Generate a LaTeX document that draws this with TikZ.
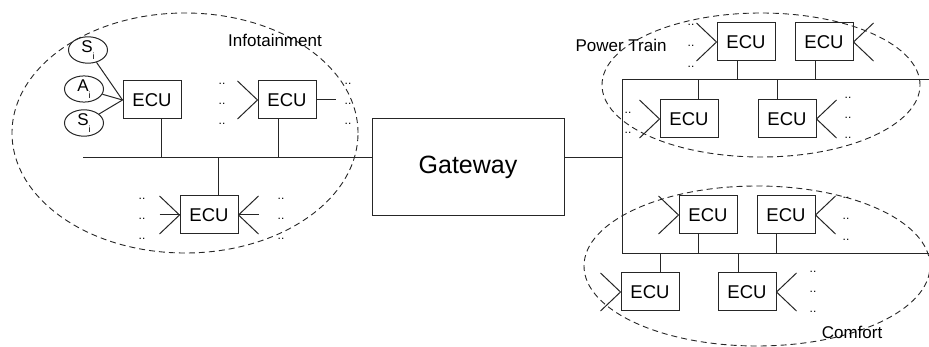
\documentclass[tikz,border=0pt]{standalone}
\usepackage{fontspec}
\setmainfont{Liberation Sans}
\usetikzlibrary{positioning,shapes.geometric}

\newcommand{\subi}{\raisebox{-0.4em}{\fontsize{9}{9}\selectfont i}}

\begin{document}
\begin{tikzpicture}[x=1pt,y=-1pt,line width=1pt,draw=black!85,
    ecu/.style={draw,rectangle,minimum width=58pt,minimum height=38pt,inner sep=0pt,font=\fontsize{18.5}{18.5}\selectfont},
    sens/.style={draw,ellipse,minimum width=39pt,minimum height=25pt,inner sep=0pt,font=\fontsize{17}{17}\selectfont},
    dom/.style={draw,line width=0.9pt,dash pattern=on 6pt off 4pt},
    lbl/.style={inner sep=0pt,font=\fontsize{17}{17}\selectfont},
    dots/.style={inner sep=0pt,font=\fontsize{12}{12}\selectfont}]

\useasboundingbox (0,0) rectangle (929,347);

% domains
\draw[dom] (185,133) ellipse [x radius=173pt,y radius=120pt];
\draw[dom] (761,85) ellipse [x radius=159pt,y radius=72pt];
\draw[dom] (757,266) ellipse [x radius=173pt,y radius=80pt];

\node[lbl] (linfo) at (275,40) {Infotainment};
\node[lbl] (lpt) at (621,45) {Power Train};
\node[lbl] (lcf) at (852,332) {Comfort};

% infotainment
\node[ecu] (e1) at (152,100) {ECU};
\node[ecu] (e2) [right=76pt of e1] {ECU};
\node[ecu] (e3) at (209,215) {ECU};

\node[sens] (s1) at (88,50) {S\subi};
\node[sens] (a1) at (84,89) {A\subi};
\node[sens] (s2) at (84,123) {S\subi};

\foreach \from in {s1, a1, s2}
    {
    \draw (\from) -- (e1.west);
    }

% gateway
\node[draw,minimum width=192pt,minimum height=97pt,inner sep=0pt,font=\fontsize{25}{25}\selectfont] (gw) at (468,167.5) {Gateway};

% power train
\node[ecu] (pt1) at (746,42) {ECU};
\node[ecu] (pt2) [right=19pt of pt1] {ECU};
\node[ecu] (pt3) at (689,119) {ECU};
\node[ecu] (pt4) [right=39pt of pt3] {ECU};

% comfort
\node[ecu] (c1) at (708,215) {ECU};
\node[ecu] (c2) [right=19pt of c1] {ECU};
\node[ecu] (c3) at (650,292) {ECU};
\node[ecu] (c4) [right=38pt of c3] {ECU};

% buses
\coordinate (busL) at (83,158);
\coordinate (bbM) at (622,158);
\coordinate (bbT) at (622,80);
\coordinate (bbB) at (622,254);
\coordinate (ptEnd) at (929,80);
\coordinate (cfEnd) at (929,254);

\draw (busL) -- (busL -| gw.west);
\draw (gw.east |- bbM) -- (bbM);
\draw (bbT) -- (bbB);
\draw (bbT) -- (ptEnd);
\draw (bbB) -- (cfEnd);

\foreach \n/\s/\a/\b in {e1/9/south/busL, e2/-9/south/busL, e3/9/north/busL,
    pt1/-9/south/bbT, pt2/-9/south/bbT, pt3/9/north/bbT, pt4/-10/north/bbT,
    c1/-10/south/bbB, c2/-10/south/bbB, c3/10/north/bbB, c4/-9/north/bbB}
    {
    \draw ([xshift=\s pt]\n.\a) -- ([xshift=\s pt]\n.\a |- \b);
    }

% fan-in lines
\foreach \n in {e2, e3, pt1, pt3, c1, c3}
    {
    \draw ([shift={(-20,-19)}]\n.west) -- (\n.west) -- ([shift={(-20,19)}]\n.west);
    }
\foreach \n in {e3, pt2, pt4, c2, c4}
    {
    \draw ([shift={(20,-19)}]\n.east) -- (\n.east) -- ([shift={(20,19)}]\n.east);
    }
\draw ([xshift=-20pt]e3.west) -- (e3.west);
\draw (e3.east) -- ([xshift=20pt]e3.east);
\draw (e2.east) -- ([xshift=19pt]e2.east);

% dots
\foreach \x/\y [count=\k] in {222/84, 222/104, 222/124, 348/84, 348/104, 348/124,
    142/199, 142/219, 142/239, 281/199, 281/219, 281/239,
    691/25, 691/46, 691/67, 628/113, 628/133, 848/98, 848/118, 848/138,
    846/198, 846/219, 846/240, 813/272, 813/292, 813/312}
    {
    \node[dots] (dt\k) at (\x,\y) {..};
    }

\end{tikzpicture}
\end{document}
